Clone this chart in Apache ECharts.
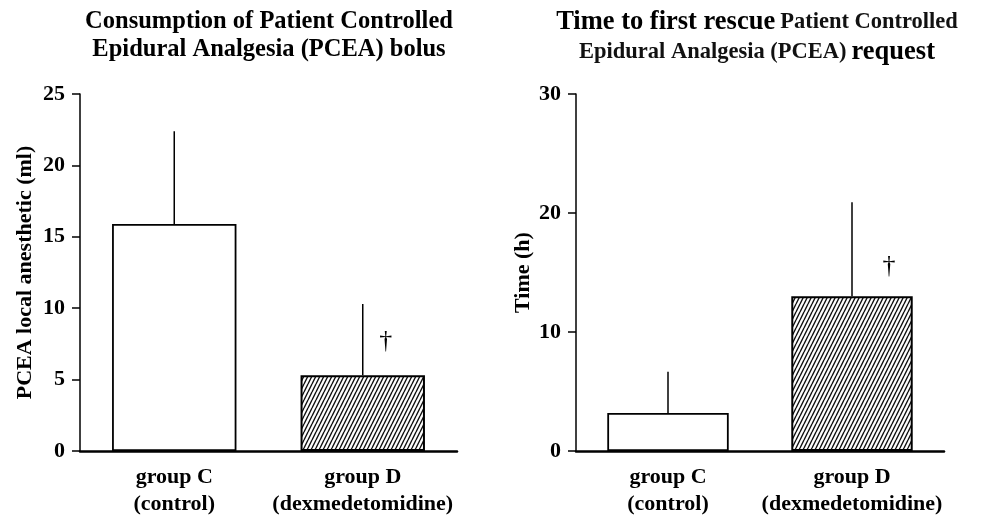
<!DOCTYPE html>
<html>
<head>
<meta charset="utf-8">
<title>PCEA</title>
<script src="https://cdn.jsdelivr.net/npm/echarts@6/dist/echarts.min.js"></script>
<style>
  html, body { margin: 0; padding: 0; background: #fff; }
  #main { width: 991px; height: 521px; }
</style>
</head>
<body>
<div id="main"></div>
<script>
// 数据
var categories = ['group C\n(control)', 'group D\n(dexmedetomidine)'];
var pceaMean = [15.9, 5.3];      // ml
var pceaSD = [6.5, 5.0];
var timeMean = [3.2, 13.0];      // h
var timeSD = [3.45, 7.9];
var pceaDagger = [[1, 7.7]];
var timeDagger = [[1, 15.5]];
var pceaMax = 25, pceaStep = 5;
var timeMax = 30, timeStep = 10;

var FONT = '"Liberation Serif", "Times New Roman", serif';

// 斜线填充
function hatch() {
    var c = document.createElement('canvas');
    var w = 4, h = 8;
    c.width = w; c.height = h;
    var ctx = c.getContext('2d');
    ctx.fillStyle = '#fff';
    ctx.fillRect(0, 0, w, h);
    ctx.strokeStyle = '#111';
    ctx.lineWidth = 1.4;
    ctx.beginPath();
    for (var k = -1; k <= 1; k++) {
        ctx.moveTo(k * w, h);
        ctx.lineTo(k * w + w, 0);
    }
    ctx.stroke();
    return c;
}
var hatchFill = { image: hatch(), repeat: 'repeat' };

function barData(vals) {
    return vals.map(function (v, i) {
        return {
            value: v,
            itemStyle: i === 1 ? { color: hatchFill, borderWidth: 2 } : { color: '#fff', borderWidth: 1.8 }
        };
    });
}

function errData(mean, sd) {
    return mean.map(function (m, i) { return [i, m, sd[i]]; });
}

function renderErr(params, api) {
    var p0 = api.coord([api.value(0), api.value(1)]);
    var p1 = api.coord([api.value(0), api.value(1) + api.value(2)]);
    return {
        type: 'line',
        shape: { x1: p0[0], y1: p0[1], x2: p1[0], y2: p1[1] },
        style: { stroke: '#000', lineWidth: 1.5 }
    };
}

function daggerRender(dx) {
    return function (params, api) {
        var p = api.coord([api.value(0), api.value(1)]);
        return {
            type: 'text',
            x: p[0] + dx, y: p[1],
            style: {
                text: '\u2020', fill: '#000',
                font: 'normal 26px ' + FONT,
                align: 'center', verticalAlign: 'middle'
            }
        };
    };
}

function yAxis(gridIndex, max, step, name, gap) {
    return {
        type: 'value', gridIndex: gridIndex,
        min: 0, max: max, interval: step,
        name: name, nameLocation: 'middle', nameGap: gap, nameRotate: 90,
        nameTextStyle: { fontFamily: FONT, fontWeight: 'bold', fontSize: 22, color: '#000' },
        axisLine: { show: true, lineStyle: { color: '#000', width: 1.5 } },
        axisTick: { show: true, length: 8, lineStyle: { color: '#000', width: 1.5 } },
        axisLabel: { margin: 15, fontFamily: FONT, fontWeight: 'bold', fontSize: 22, color: '#000' },
        splitLine: { show: false }
    };
}

function xAxis(gridIndex) {
    return {
        type: 'category', gridIndex: gridIndex, data: categories,
        axisLine: { lineStyle: { color: '#000', width: 2.5 } },
        axisTick: { show: false },
        axisLabel: { interval: 0, margin: 13, fontFamily: FONT, fontWeight: 'bold', fontSize: 22, lineHeight: 27, color: '#000' }
    };
}

var myChart = echarts.init(document.getElementById('main'));
var option = {
    backgroundColor: '#fff',
    animation: false,
    title: [{
        text: 'Consumption of Patient Controlled\nEpidural Analgesia (PCEA) bolus',
        left: 264, top: 3, textAlign: 'center',
        textStyle: { fontFamily: FONT, fontWeight: 'bold', fontSize: 24.5, lineHeight: 28, color: '#000' }
    }, {
        text: '{b|Time to first rescue} {n|Patient Controlled}\n{n|Epidural Analgesia (PCEA)} {b|request}',
        left: 752, top: 2, textAlign: 'center',
        textStyle: {
            rich: {
                b: { fontFamily: FONT, fontWeight: 'bold', fontSize: 26.5, lineHeight: 30, color: '#000' },
                n: { fontFamily: FONT, fontWeight: 'bold', fontSize: 22.5, lineHeight: 30, color: '#111' }
            }
        }
    }],
    grid: [
        { left: 80, top: 94, width: 377, height: 357 },
        { left: 576, top: 94, width: 368, height: 357 }
    ],
    xAxis: [xAxis(0), xAxis(1)],
    yAxis: [
        yAxis(0, pceaMax, pceaStep, 'PCEA local anesthetic (ml)', 44),
        yAxis(1, timeMax, timeStep, 'Time (h)', 42)
    ],
    series: [
        {
            type: 'bar', xAxisIndex: 0, yAxisIndex: 0, barWidth: '66%',
            itemStyle: { borderColor: '#000' },
            data: barData(pceaMean), z: 2
        },
        {
            type: 'bar', xAxisIndex: 1, yAxisIndex: 1, barWidth: '66%',
            itemStyle: { borderColor: '#000' },
            data: barData(timeMean), z: 2
        },
        { type: 'custom', xAxisIndex: 0, yAxisIndex: 0, renderItem: renderErr, data: errData(pceaMean, pceaSD), z: 3 },
        { type: 'custom', xAxisIndex: 1, yAxisIndex: 1, renderItem: renderErr, data: errData(timeMean, timeSD), z: 3 },
        { type: 'custom', xAxisIndex: 0, yAxisIndex: 0, renderItem: daggerRender(23), data: pceaDagger, z: 3 },
        { type: 'custom', xAxisIndex: 1, yAxisIndex: 1, renderItem: daggerRender(37), data: timeDagger, z: 3 }
    ]
};
myChart.setOption(option);
</script>
</body>
</html>
